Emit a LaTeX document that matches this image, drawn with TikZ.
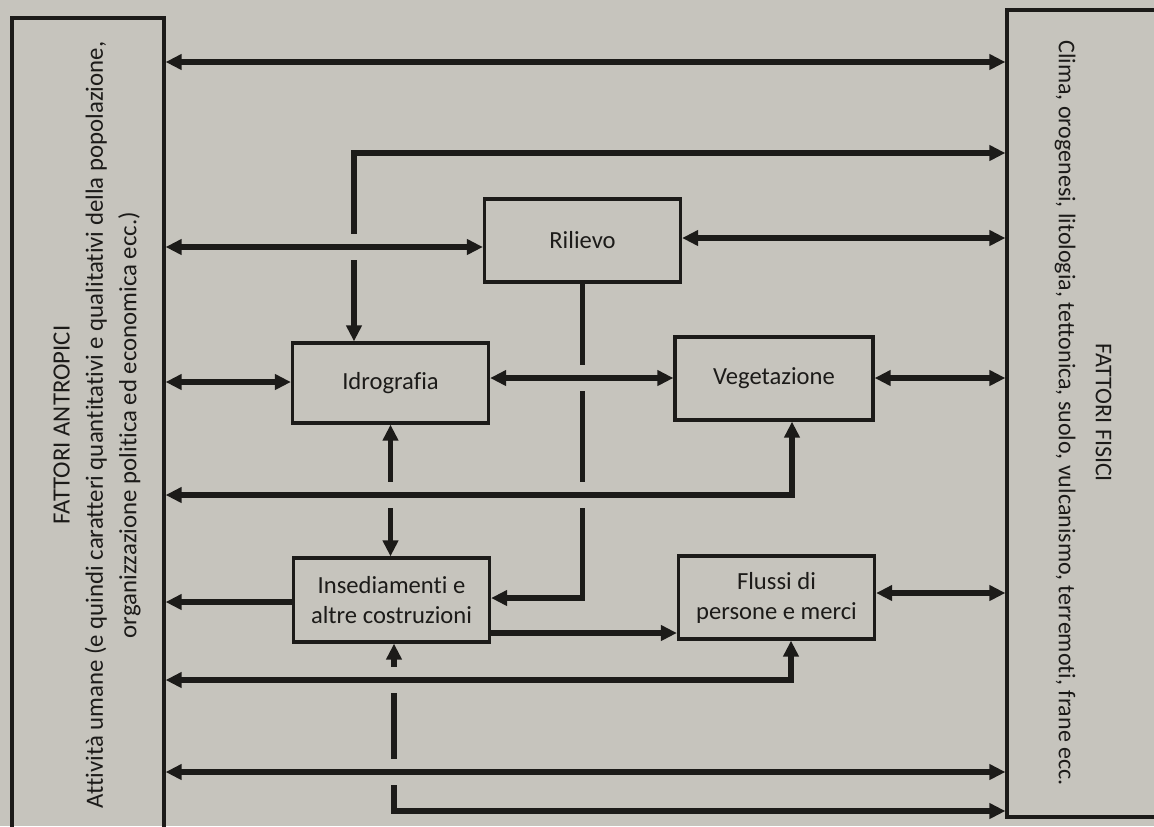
\documentclass[tikz,border=0pt]{standalone}
\usepackage{fontspec}
\setmainfont{Carlito}[Ligatures=NoCommon]
\usetikzlibrary{arrows.meta,fit}
\definecolor{bg}{RGB}{198,196,189}
\definecolor{ink}{RGB}{28,27,25}
\tikzset{
  >={Triangle[length=8pt,width=7.5pt]},
  box/.style={draw=ink, line width=1.6pt, fill=bg, inner sep=0pt, align=center,
    text=ink, font=\fontsize{12.3}{15}\selectfont, minimum width=98pt, minimum height=41.5pt},
  frame/.style={draw=ink, line width=1.6pt, inner sep=0pt},
  conn/.style={draw=ink, line width=2.6pt},
  hop/.style={preaction={draw=bg, line width=13pt, -, shorten <=8pt, shorten >=8pt}},
  bigtext/.style={align=center, text=ink, inner sep=0pt}
}
\begin{document}
\begin{tikzpicture}[x=0.5pt, y=-0.5pt]
\useasboundingbox (0,0) rectangle (1154,826);
\fill[bg] (0,0) rectangle (1154,826);
\clip (0,0) rectangle (1154,826);

% big frames
\node[frame, fit={(12,18) (164,830)}] (antr) {};
\node[frame, fit={(1007,10) (1190,817)}] (fis) {};
\node[bigtext, rotate=90, font=\fontsize{12.4}{16.7}\selectfont] (antrtxt) at (97,425)
  {FATTORI ANTROPICI\\Attività umane (e quindi caratteri quantitativi e qualitativi della popolazione,\\organizzazione politica ed economica ecc.)};
\node[bigtext, rotate=-90, font=\fontsize{12}{18.5}\selectfont] (fistxt) at (1083,413)
  {FATTORI FISICI\\Clima, orogenesi, litologia, tettonica, suolo, vulcanismo, terremoti, frane ecc.};

% inner boxes
\node[box] (ril) at (582.5,240.5) {Rilievo};
\node[box, minimum height=40pt] (idr) at (390.5,383) {Idrografia};
\node[box, minimum width=99pt] (veg) at (774,378.5) {Vegetazione};
\node[box, minimum height=42pt] (ins) at (391.5,600) {Insediamenti e\\altre costruzioni};
\node[box] (flu) at (776.5,597.5) {Flussi di\\persone e merci};

% connectors that get interrupted
\draw[conn,<->] (idr.north -| 354,0) |- (fis.west |- 0,153);
\draw[conn,->] (ril.south) |- (ins.east |- 0,598);
\draw[conn,<->] (idr.south) -- (idr.south |- ins.north);
\draw[conn,<->] (ins.south -| 394,0) |- (fis.west |- 0,811);

% connectors crossing over
\draw[conn,<->] (antr.east |- 0,62) -- (fis.west |- 0,62);
\draw[conn,<->,hop] (antr.east |- 0,247) -- (ril.west |- 0,247);
\draw[conn,<->,hop] (idr.east |- 0,378) -- (veg.west |- 0,378);
\draw[conn,<->,hop] (antr.east |- 0,495) -| (veg.south -| 792,0);
\draw[conn,<->,hop] (antr.east |- 0,680) -| (flu.south -| 791,0);
\draw[conn,<->,hop] (antr.east |- 0,772) -- (fis.west |- 0,772);

% other connectors
\draw[conn,<->] (ril.east |- 0,238) -- (fis.west |- 0,238);
\draw[conn,<->] (antr.east |- 0,382) -- (idr.west |- 0,382);
\draw[conn,<->] (veg.east |- 0,378) -- (fis.west |- 0,378);
\draw[conn,->] (ins.west |- 0,602) -- (antr.east |- 0,602);
\draw[conn,->] (ins.east |- 0,633) -- (flu.west |- 0,633);
\draw[conn,<->] (flu.east |- 0,593) -- (fis.west |- 0,593);
\end{tikzpicture}
\end{document}
